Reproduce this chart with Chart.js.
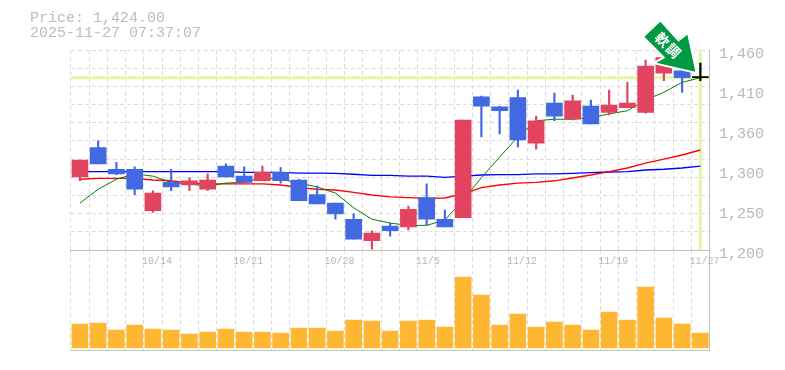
<!DOCTYPE html>
<html>
<head>
<meta charset="utf-8">
<script src="https://cdn.jsdelivr.net/npm/chart.js@4"></script>
<style>
html,body{margin:0;padding:0;background:#fff;}
#wrap{position:relative;width:785px;height:370px;overflow:hidden;}
canvas{position:absolute;left:0;top:0;}
.head{position:absolute;left:30px;font:15px/15px "Liberation Mono",monospace;color:#bcbcbc;white-space:pre;}
</style>
</head>
<body>
<div id="wrap">
<canvas id="vol" width="785" height="370"></canvas>
<canvas id="price" width="785" height="370"></canvas>
<div class="head" style="top:11px">Price: 1,424.00</div>
<div class="head" style="top:26px">2025-11-27 07:37:07</div>
</div>
<script>
const categories = ["10/7","10/8","10/9","10/10","10/14","10/15","10/16","10/17","10/20","10/21","10/22","10/23","10/24","10/27","10/28","10/29","10/30","10/31","11/4","11/5","11/6","11/7","11/10","11/11","11/12","11/13","11/14","11/17","11/18","11/19","11/20","11/21","11/25","11/26","11/27"];
const opens  = [1295,1333,1305,1305,1251,1288,1284.5,1279,1309,1296,1290,1301,1291,1272,1261,1240,1212,1231,1230,1268,1240,1242,1399,1386,1398,1339,1391,1370,1387,1379,1385,1379,1430,1433,1424];
const highs  = [1317,1342,1314,1308,1277,1305,1294,1299,1312,1308,1309,1307,1292,1283,1261,1247,1225,1235,1257,1286,1252,1369,1400,1387,1408,1374,1404,1401.5,1395,1408,1418,1447,1452,1436,1443];
const lows   = [1290,1312,1298,1272,1249,1277,1277,1277,1295,1288,1290,1287,1264,1260,1240,1214,1201,1218,1226,1232,1230,1242,1347,1351,1334,1331,1368,1369,1364,1375.5,1385,1378,1420,1405,1420];
const closes = [1317,1312,1299,1279,1274,1282,1290,1291,1295,1288,1301,1290,1264,1260,1247,1214,1222,1225,1253,1240,1230,1369,1387,1381,1343,1368,1374,1394,1364,1388.5,1391,1439,1450,1424,1424];
const maShort = [1261,1279,1292,1299,1296,1288,1286,1283,1287,1288,1294,1292,1287,1282,1274,1255,1240,1235,1232,1232,1239,1265,1294,1321,1347,1368,1370,1370,1372,1377,1381,1395,1405,1418,1424];
const maMid   = [1292,1293,1293,1293,1291,1290,1287,1286,1286,1286,1286,1284.5,1281,1279,1278,1275,1271.5,1269,1268,1267,1267.6,1273,1281,1284.5,1287,1288,1290,1293.6,1297.5,1302,1306.6,1313,1318,1323.5,1330];
const maLong  = [1302,1302,1302,1302,1302,1302,1302,1302,1302,1301,1301,1301,1300,1300,1299.5,1298.5,1297,1297,1296,1296,1294.5,1296,1297.5,1298,1298,1299,1299,1299.5,1300.5,1301.4,1302,1304,1305,1306.6,1309];
const volumes = [24,25,18,23,19,18,14,16,19,16,16,15,20,20,17,28,27,17,27,28,21,71,53,23,34,21,26,23,18,36,28,61,30,24,15];
const xTickLabels = ["10/14","10/21","10/28","11/5","11/12","11/19","11/27"];
const yTickValues = [1200,1252,1304,1356,1408,1460];
const yTickLabels = ["1,200","1,250","1,300","1,360","1,410","1,460"];
const lastPrice = 1424;
const badgeText = ["軟","調"];

const UP="#e2435f", DOWN="#4169e1", FLAT="#000000", VOL="#ffb733";
const GRID="#dcdcdc", AXIS="#c0c0c0", TXT="#b8b8b8", MARK="#e6f5a8", BADGE="#009944";
const candleColors = closes.map((c,i)=> c===opens[i] ? FLAT : (c>opens[i] ? UP : DOWN));
const lineSet=(data,color,w,order)=>({type:'line',data,borderColor:color,borderWidth:w,pointRadius:0,tension:0,order,yAxisID:'y',fill:false});

const decor={
  id:'decor',
  beforeDatasetsDraw(c){
    const {ctx,chartArea:a,scales:{x,y}}=c;
    const py=y.getPixelForValue(lastPrice), px=x.getPixelForValue(categories.length-1);
    ctx.save();
    ctx.fillStyle=MARK;
    ctx.fillRect(a.left,py-1.5,a.right-a.left,3);
    ctx.fillRect(px-1.5,a.top,3,a.bottom-a.top);
    ctx.restore();
  },
  afterDraw(c){
    const {ctx,scales:{x,y}}=c;
    const px=x.getPixelForValue(categories.length-1), py=y.getPixelForValue(lastPrice);
    const t=(dx,dy)=>[px+dx,py+dy];
    const pts=[t(-40,-56),t(-56,-41),t(-35,-20),t(-44,-15),t(-5,-6),t(-13,-43),t(-22,-36)];
    ctx.save();
    ctx.fillStyle=BADGE;
    ctx.strokeStyle="#fff";
    ctx.lineWidth=4;
    ctx.lineJoin='miter';
    ctx.beginPath();
    pts.forEach((p,i)=>i?ctx.lineTo(p[0],p[1]):ctx.moveTo(p[0],p[1]));
    ctx.closePath();ctx.stroke();ctx.fill();
    ctx.fillStyle="#fff";
    ctx.font='bold 14px "Noto Sans CJK JP"';
    ctx.textAlign='center';ctx.textBaseline='middle';
    [t(-38,-38),t(-27,-27)].forEach((p,i)=>{
      ctx.save();ctx.translate(p[0],p[1]);ctx.rotate(Math.PI/4);ctx.fillText(badgeText[i],0,0);ctx.restore();
    });
    ctx.restore();
  }
};

new Chart(document.getElementById('price'),{
  data:{labels:categories,datasets:[
    {type:'bar',data:categories.map((_,i)=>[opens[i],closes[i]]),backgroundColor:candleColors,barThickness:16,minBarLength:1.2,grouped:false,order:0,yAxisID:'y'},
    {type:'bar',data:categories.map((_,i)=>[lows[i],highs[i]]),backgroundColor:candleColors,barThickness:1.5,grouped:false,order:1,yAxisID:'y'},
    lineSet(maShort,"#008000",1,2),
    lineSet(maMid,"#ff0000",1.3,3),
    lineSet(maLong,"#0000ff",1.3,4)
  ]},
  options:{
    responsive:false,animation:false,
    layout:{padding:{left:70.8,top:50,right:0,bottom:0}},
    plugins:{legend:{display:false},title:{display:false},tooltip:{enabled:false}},
    scales:{
      x:{
        offset:true,
        grid:{color:GRID,lineWidth:1,drawTicks:false,offset:true},
        border:{display:true,color:AXIS,width:1,dash:[4,3]},
        ticks:{autoSkip:false,maxRotation:0,minRotation:0,align:'start',labelOffset:-11,padding:5,color:TXT,
          font:{family:'"Liberation Mono",monospace',size:10},
          callback(v){const l=categories[v];return xTickLabels.includes(l)?l:'';}},
        afterFit(s){s.height=120;}
      },
      y:{
        position:'right',min:1200,max:1460,
        grid:{display:false},
        border:{display:true,color:AXIS,width:1},
        afterBuildTicks(s){s.ticks=yTickValues.map(v=>({value:v}));},
        ticks:{padding:1.5,labelOffset:4,color:TXT,autoSkip:false,
          font:{family:'"Liberation Mono",monospace',size:15},
          callback(v){return yTickLabels[yTickValues.indexOf(v)];}},
        afterFit(s){s.width=75.5;}
      },
      yGrid:{
        position:'left',min:1200,max:1460,
        grid:{color:GRID,lineWidth:1,drawTicks:false},
        border:{display:false,dash:[4,3]},
        ticks:{display:false},
        afterBuildTicks(s){const a=[];for(let k=0;k<=11;k++)a.push({value:1200+k*260/11});s.ticks=a;},
        afterFit(s){s.width=0;}
      }
    }
  },
  plugins:[decor]
});

new Chart(document.getElementById('vol'),{
  data:{labels:categories,datasets:[
    {type:'bar',data:volumes,backgroundColor:VOL,barThickness:16,yAxisID:'y'}
  ]},
  options:{
    responsive:false,animation:false,
    layout:{padding:{left:70.8,top:250,right:0,bottom:0}},
    plugins:{legend:{display:false},title:{display:false},tooltip:{enabled:false}},
    scales:{
      x:{
        offset:true,
        grid:{color:GRID,lineWidth:1,drawTicks:false,offset:true},
        border:{display:true,color:AXIS,width:1,dash:[4,3]},
        ticks:{display:false},
        afterFit(s){s.height=20;}
      },
      y:{
        position:'right',min:-2,max:98,
        grid:{display:false},
        border:{display:true,color:AXIS,width:1},
        ticks:{display:false},
        afterFit(s){s.width=75.5;}
      }
    }
  }
});
</script>
</body>
</html>
